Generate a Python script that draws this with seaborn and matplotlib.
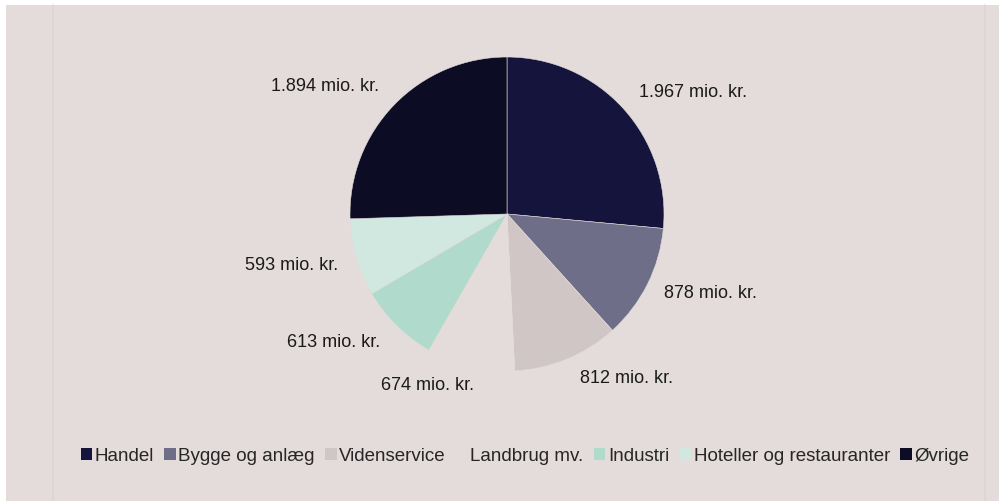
import matplotlib
matplotlib.use("Agg")
import numpy as np
import matplotlib.pyplot as plt
import seaborn as sns
from matplotlib.patches import Rectangle
from matplotlib.lines import Line2D

sns.set_theme(style="white")
plt.rcParams["font.family"] = ["Liberation Sans", "DejaVu Sans"]

kategorier = ["Handel", "Bygge og anlæg", "Videnservice", "Landbrug mv.",
              "Industri", "Hoteller og restauranter", "Øvrige"]
beloeb = [1967, 878, 812, 674, 613, 593, 1894]
etiketter = ["1.967 mio. kr.", "878 mio. kr.", "812 mio. kr.", "674 mio. kr.",
             "613 mio. kr.", "593 mio. kr.", "1.894 mio. kr."]

baggrund = "#E3DCDB"
farver = sns.color_palette(["#14143C", "#6E6E88", "#D0C6C6", baggrund,
                            "#B0DACB", "#D0E8DF", "#0C0C24"])

# label placement like Excel's "best fit": shift of angle (deg) and radial distance
vinkel_skift = [-9, 5.5, 13.5, -11.5, -9, -3, 9]
afstand = [1.42, 1.39, 1.29, 1.2, 1.37, 1.41, 1.42]

fig = plt.figure(figsize=(9.99, 5.02), dpi=100, facecolor="white")
fig.patches.append(Rectangle((6 / 999, 0), 993 / 999, 496 / 502,
                             transform=fig.transFigure, facecolor=baggrund,
                             edgecolor="none", zorder=-5))
for xp in (53, 985):
    fig.lines.append(Line2D([xp / 999, xp / 999], [0, 496 / 502],
                            transform=fig.transFigure, color="#DAD6D5", lw=1.2,
                            zorder=-4))

# pie axes placed so the circle sits where the original one does
cx, cy, r = 507, 215, 157
ax = fig.add_axes([(cx - r) / 999, (502 - cy - r) / 502, 2 * r / 999, 2 * r / 502])
ax.set_facecolor("none")

wedges, texts = ax.pie(beloeb, labels=etiketter, colors=farver, startangle=90,
                       counterclock=False, labeldistance=1.36,
                       wedgeprops=dict(edgecolor=baggrund, linewidth=0.4),
                       textprops=dict(fontsize=13, color="#1a1a1a"))
for w, t, ds, d in zip(wedges, texts, vinkel_skift, afstand):
    mid = np.deg2rad((w.theta1 + w.theta2) / 2 + ds)
    t.set_position((d * np.cos(mid), d * np.sin(mid)))
    t.set_horizontalalignment("center")
    t.set_verticalalignment("center")
ax.set_xlim(-1, 1)
ax.set_ylim(-1, 1)
ax.set_aspect("equal")
ax.axis("off")

handles = [Rectangle((0, 0), 1, 1, facecolor=c, edgecolor="none") for c in farver]
fig.legend(handles, kategorier, loc="center", bbox_to_anchor=(525 / 999, 1 - 457 / 502),
           ncol=7, frameon=False, fontsize=13.5, handlelength=0.6, handleheight=0.6,
           handletextpad=0.15, columnspacing=0.55)

fig.savefig("out.png", dpi=100, facecolor="white")
